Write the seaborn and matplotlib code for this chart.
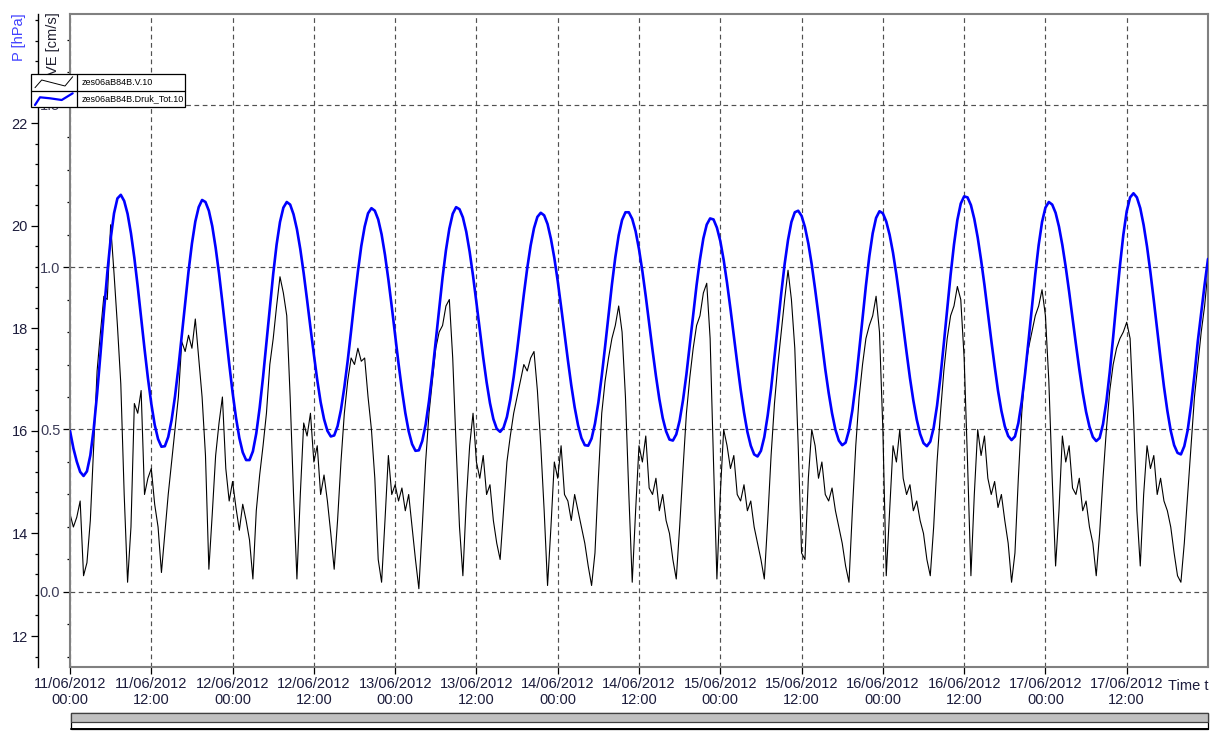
import pandas as pd
import matplotlib
matplotlib.use("Agg")
import matplotlib.pyplot as plt
import matplotlib.dates as mdates
from matplotlib.ticker import MultipleLocator, FixedLocator, FormatStrFormatter
from matplotlib.patches import Rectangle
import seaborn as sns

# ---- series: tidal pressure and flow speed, both every 30 min ----
START = "2012-06-11 00:00"

pressure_d1 = [16.00, 15.66, 15.40, 15.20, 15.12, 15.21, 15.52, 16.04, 16.72, 17.50, 18.31, 19.07,
               19.74, 20.24, 20.53, 20.60, 20.48, 20.23, 19.85, 19.37, 18.81, 18.21, 17.60, 17.03,
               16.53, 16.12, 15.84, 15.69, 15.70, 15.88, 16.21, 16.67, 17.23, 17.86, 18.50, 19.11,
               19.65, 20.08, 20.36, 20.50, 20.46, 20.29, 19.99, 19.57, 19.07, 18.50, 17.90, 17.31]
pressure_d2 = [16.75, 16.26, 15.86, 15.58, 15.43, 15.43, 15.60, 15.95, 16.45, 17.05, 17.72, 18.41,
               19.06, 19.63, 20.07, 20.35, 20.46, 20.41, 20.22, 19.93, 19.54, 19.07, 18.55, 18.01,
               17.49, 16.99, 16.56, 16.23, 16.00, 15.89, 15.91, 16.09, 16.41, 16.85, 17.37, 17.95,
               18.55, 19.10, 19.60, 19.98, 20.24, 20.34, 20.29, 20.12, 19.83, 19.43, 18.95, 18.42]
pressure_d3 = [17.86, 17.31, 16.80, 16.35, 15.99, 15.74, 15.61, 15.62, 15.80, 16.12, 16.58, 17.14,
               17.75, 18.38, 18.99, 19.52, 19.94, 20.23, 20.36, 20.32, 20.16, 19.88, 19.49, 19.02,
               18.50, 17.96, 17.43, 16.95, 16.54, 16.23, 16.04, 15.98, 16.06, 16.27, 16.61, 17.05,
               17.56, 18.11, 18.66, 19.17, 19.61, 19.95, 20.17, 20.25, 20.20, 20.03, 19.74, 19.37]
pressure_d4 = [18.92, 18.42, 17.90, 17.38, 16.89, 16.46, 16.11, 15.86, 15.72, 15.71, 15.85, 16.14,
               16.55, 17.07, 17.65, 18.26, 18.85, 19.38, 19.81, 20.11, 20.26, 20.26, 20.13, 19.89,
               19.54, 19.11, 18.62, 18.09, 17.57, 17.07, 16.62, 16.25, 15.99, 15.83, 15.81, 15.93,
               16.20, 16.60, 17.10, 17.68, 18.26, 18.84, 19.34, 19.75, 20.02, 20.14, 20.12, 19.96]
pressure_d5 = [19.70, 19.33, 18.88, 18.38, 17.85, 17.32, 16.81, 16.36, 15.98, 15.71, 15.54, 15.50,
               15.61, 15.88, 16.30, 16.82, 17.43, 18.06, 18.68, 19.25, 19.72, 20.07, 20.26, 20.29,
               20.19, 19.97, 19.65, 19.24, 18.76, 18.25, 17.72, 17.20, 16.74, 16.34, 16.02, 15.81,
               15.72, 15.77, 16.01, 16.40, 16.93, 17.55, 18.19, 18.83, 19.40, 19.85, 20.15, 20.28]
pressure_d6 = [20.24, 20.08, 19.82, 19.47, 19.04, 18.56, 18.04, 17.53, 17.03, 16.59, 16.22, 15.94,
               15.76, 15.70, 15.79, 16.06, 16.49, 17.05, 17.70, 18.38, 19.04, 19.63, 20.11, 20.43,
               20.57, 20.55, 20.40, 20.13, 19.77, 19.33, 18.84, 18.30, 17.77, 17.26, 16.78, 16.39,
               16.09, 15.90, 15.82, 15.89, 16.15, 16.57, 17.12, 17.75, 18.41, 19.05, 19.62, 20.07]
pressure_d7 = [20.35, 20.46, 20.41, 20.25, 19.98, 19.62, 19.19, 18.71, 18.20, 17.69, 17.20, 16.75,
               16.37, 16.08, 15.88, 15.80, 15.86, 16.13, 16.57, 17.15, 17.83, 18.54, 19.22, 19.82,
               20.28, 20.55, 20.63, 20.55, 20.34, 20.01, 19.59, 19.09, 18.54, 17.97, 17.40, 16.86,
               16.39, 16.00, 15.72, 15.57, 15.54, 15.70, 16.01, 16.50, 17.09, 17.75, 18.30, 18.85,
               19.35]

speed_d1 = [0.24, 0.20, 0.23, 0.28, 0.05, 0.09, 0.22, 0.45, 0.68, 0.80, 0.91, 0.90,
            1.13, 0.98, 0.82, 0.64, 0.30, 0.03, 0.20, 0.58, 0.55, 0.62, 0.30, 0.35,
            0.38, 0.27, 0.20, 0.06, 0.18, 0.30, 0.40, 0.50, 0.60, 0.77, 0.74, 0.79,
            0.75, 0.84, 0.72, 0.60, 0.42, 0.07, 0.24, 0.42, 0.52, 0.60, 0.38, 0.28]
speed_d2 = [0.34, 0.26, 0.19, 0.27, 0.22, 0.16, 0.04, 0.25, 0.36, 0.45, 0.55, 0.70,
            0.78, 0.88, 0.97, 0.92, 0.85, 0.60, 0.30, 0.04, 0.30, 0.52, 0.48, 0.55,
            0.40, 0.45, 0.30, 0.36, 0.28, 0.18, 0.07, 0.22, 0.40, 0.55, 0.65, 0.72,
            0.70, 0.75, 0.71, 0.72, 0.60, 0.50, 0.35, 0.10, 0.03, 0.22, 0.42, 0.30]
speed_d3 = [0.33, 0.28, 0.32, 0.25, 0.30, 0.20, 0.10, 0.01, 0.20, 0.40, 0.55, 0.65,
            0.75, 0.80, 0.82, 0.88, 0.90, 0.72, 0.45, 0.20, 0.05, 0.28, 0.45, 0.55,
            0.40, 0.35, 0.42, 0.30, 0.33, 0.22, 0.15, 0.10, 0.25, 0.40, 0.48, 0.55,
            0.60, 0.65, 0.70, 0.68, 0.72, 0.74, 0.62, 0.45, 0.25, 0.02, 0.20, 0.40]
speed_d4 = [0.35, 0.45, 0.30, 0.28, 0.22, 0.30, 0.25, 0.20, 0.15, 0.08, 0.02, 0.12,
            0.35, 0.55, 0.65, 0.72, 0.78, 0.82, 0.88, 0.80, 0.60, 0.30, 0.03, 0.25,
            0.45, 0.40, 0.48, 0.32, 0.30, 0.35, 0.25, 0.30, 0.22, 0.18, 0.10, 0.04,
            0.20, 0.38, 0.55, 0.66, 0.75, 0.82, 0.85, 0.92, 0.95, 0.78, 0.40, 0.04]
speed_d5 = [0.30, 0.50, 0.45, 0.38, 0.42, 0.30, 0.28, 0.33, 0.25, 0.28, 0.20, 0.15,
            0.10, 0.04, 0.22, 0.42, 0.58, 0.70, 0.80, 0.90, 0.99, 0.90, 0.75, 0.45,
            0.12, 0.10, 0.35, 0.50, 0.45, 0.35, 0.40, 0.30, 0.28, 0.32, 0.25, 0.20,
            0.15, 0.08, 0.03, 0.25, 0.45, 0.60, 0.70, 0.78, 0.82, 0.85, 0.91, 0.80]
speed_d6 = [0.50, 0.05, 0.25, 0.45, 0.40, 0.50, 0.35, 0.30, 0.33, 0.25, 0.28, 0.22,
            0.18, 0.10, 0.05, 0.20, 0.40, 0.55, 0.68, 0.78, 0.85, 0.88, 0.94, 0.90,
            0.72, 0.40, 0.05, 0.30, 0.50, 0.42, 0.48, 0.35, 0.30, 0.34, 0.26, 0.30,
            0.22, 0.15, 0.03, 0.12, 0.35, 0.55, 0.68, 0.75, 0.80, 0.85, 0.88, 0.93]
speed_d7 = [0.85, 0.65, 0.35, 0.08, 0.25, 0.48, 0.40, 0.45, 0.32, 0.30, 0.35, 0.25,
            0.28, 0.20, 0.15, 0.05, 0.18, 0.35, 0.50, 0.62, 0.70, 0.75, 0.78, 0.80,
            0.83, 0.78, 0.55, 0.25, 0.08, 0.30, 0.45, 0.38, 0.42, 0.30, 0.35, 0.28,
            0.25, 0.20, 0.12, 0.05, 0.03, 0.15, 0.30, 0.45, 0.60, 0.70, 0.80, 0.88,
            0.99]

tick_times = pd.date_range(START, periods=14, freq="12h")

speed_name = "zes06aB84B.V.10"
pressure_name = "zes06aB84B.Druk_Tot.10"

pressure = pressure_d1 + pressure_d2 + pressure_d3 + pressure_d4 + pressure_d5 + pressure_d6 + pressure_d7
speed = speed_d1 + speed_d2 + speed_d3 + speed_d4 + speed_d5 + speed_d6 + speed_d7
df_p = pd.DataFrame({"time": pd.date_range(START, periods=len(pressure), freq="30min"), "P": pressure})
df_v = pd.DataFrame({"time": pd.date_range(START, periods=len(speed), freq="30min"), "VE": speed})

# ---- styling ----
sns.set_theme(style="white")
plt.rcParams["font.family"] = ["Liberation Sans", "DejaVu Sans"]

W, H = 1210, 731
fig = plt.figure(figsize=(W / 100, H / 100), dpi=100)
fig.patch.set_facecolor("white")

L, R, T, B = 70, 1208, 14, 667
ax = fig.add_axes([L / W, 1 - B / H, (R - L) / W, (B - T) / H])
ax2 = ax.twinx()

TXT = "#1c1c3c"
FRAME = "#808080"

sns.lineplot(data=df_v, x="time", y="VE", ax=ax, color="black", lw=0.8,
             estimator=None, legend=False)
sns.lineplot(data=df_p, x="time", y="P", ax=ax2, color="#0000ff", lw=1.9,
             estimator=None, legend=False)

ax.set_xlim(pd.Timestamp(START), pd.Timestamp("2012-06-18 00:00"))
ax.set_ylim(-0.2308, 1.7785)
ax2.set_ylim(11.396, 24.125)

ax.set_xlabel("")
ax.set_ylabel("")
ax2.set_ylabel("")

# time axis
ax.xaxis.set_major_locator(FixedLocator(mdates.date2num(tick_times.to_pydatetime())))
ax.xaxis.set_major_formatter(mdates.DateFormatter("%d/%m/%Y\n%H:%M"))
ax.tick_params(axis="x", which="major", bottom=True, top=False, direction="out",
               length=5.0, width=0.9, color="black", pad=2.2, labelsize=10.5,
               labelcolor=TXT)

# speed axis (inner)
ax.yaxis.set_major_locator(MultipleLocator(0.5))
ax.yaxis.set_minor_locator(MultipleLocator(0.1))
ax.yaxis.set_major_formatter(FormatStrFormatter("%.1f"))
ax.tick_params(axis="y", which="major", left=True, right=False, direction="out",
               length=5.0, width=0.9, color="black", pad=2.0, labelsize=10.5,
               labelcolor="#3c3c58")
ax.tick_params(axis="y", which="minor", left=True, right=False, direction="out",
               length=2.4, width=0.9, color="black")

ax.grid(True, which="major", axis="both", color="#505050", lw=0.85,
        linestyle=(0, (4, 3)))
for s in ax.spines.values():
    s.set_color(FRAME)
    s.set_linewidth(1.5)
    s.set_visible(True)

# pressure axis (outer)
ax2.grid(False)
ax2.yaxis.set_ticks_position("left")
ax2.yaxis.set_label_position("left")
for name in ("right", "top", "bottom"):
    ax2.spines[name].set_visible(False)
ax2.spines["left"].set_visible(True)
ax2.spines["left"].set_position(("outward", 23.04))
ax2.spines["left"].set_color("black")
ax2.spines["left"].set_linewidth(1.0)
ax2.yaxis.set_major_locator(FixedLocator([12, 14, 16, 18, 20, 22]))
ax2.yaxis.set_minor_locator(MultipleLocator(0.4))
ax2.yaxis.set_major_formatter(FormatStrFormatter("%d"))
ax2.tick_params(axis="y", which="major", left=True, right=False, direction="out",
                length=5.0, width=0.9, color="black", pad=2.4, labelsize=10.5,
                labelcolor=TXT)
ax2.tick_params(axis="y", which="minor", left=True, right=False, direction="out",
                length=2.4, width=0.9, color="black")

# axis titles
fig.text(19 / W, 1 - 37.5 / H, "P [hPa]", rotation=90, ha="center", va="center",
         fontsize=10.5, color="#4040ff")
fig.text(52.5 / W, 1 - 44 / H, "VE [cm/s]", rotation=90, ha="center", va="center",
         fontsize=10.5, color="#202030")
fig.text(1168 / W, 1 - 686 / H, "Time t", ha="left", va="center",
         fontsize=10.5, color=TXT)

# overlay in pixel units for the legend box and the scroll bar
ov = fig.add_axes([0, 0, 1, 1])
ov.set_xlim(0, W)
ov.set_ylim(H, 0)
ov.axis("off")
ov.patch.set_visible(False)
ov.set_zorder(20)

# legend
ov.add_patch(Rectangle((30.5, 74), 154.5, 33, facecolor="white", edgecolor="black", lw=0.9))
ov.plot([30.5, 185], [90.5, 90.5], color="black", lw=0.9)
ov.plot([77.3, 77.3], [74, 107], color="black", lw=0.9)
ov.plot([35, 41.7, 65, 72.7], [87.7, 80, 86, 76.7], color="black", lw=0.7)
ov.plot([35, 40, 50, 61.7, 72.7], [105, 97.3, 98.3, 100, 93.3], color="#0000ff", lw=1.6)
ov.text(81.7, 82.5, speed_name, fontsize=6.5, va="center", ha="left", color="black")
ov.text(81.7, 99, pressure_name, fontsize=6.5, va="center", ha="left", color="black")

# scroll bar under the time axis
ov.add_patch(Rectangle((70.5, 713), 1137, 15.5, facecolor="white", edgecolor="black", lw=0.9))
ov.add_patch(Rectangle((70.5, 713), 1137, 8.5, facecolor="#c0c0c0", edgecolor="#404040", lw=0.9))
ov.plot([70.5, 1207.5], [728.5, 728.5], color="black", lw=1.4)

fig.savefig("out.png", dpi=100)
